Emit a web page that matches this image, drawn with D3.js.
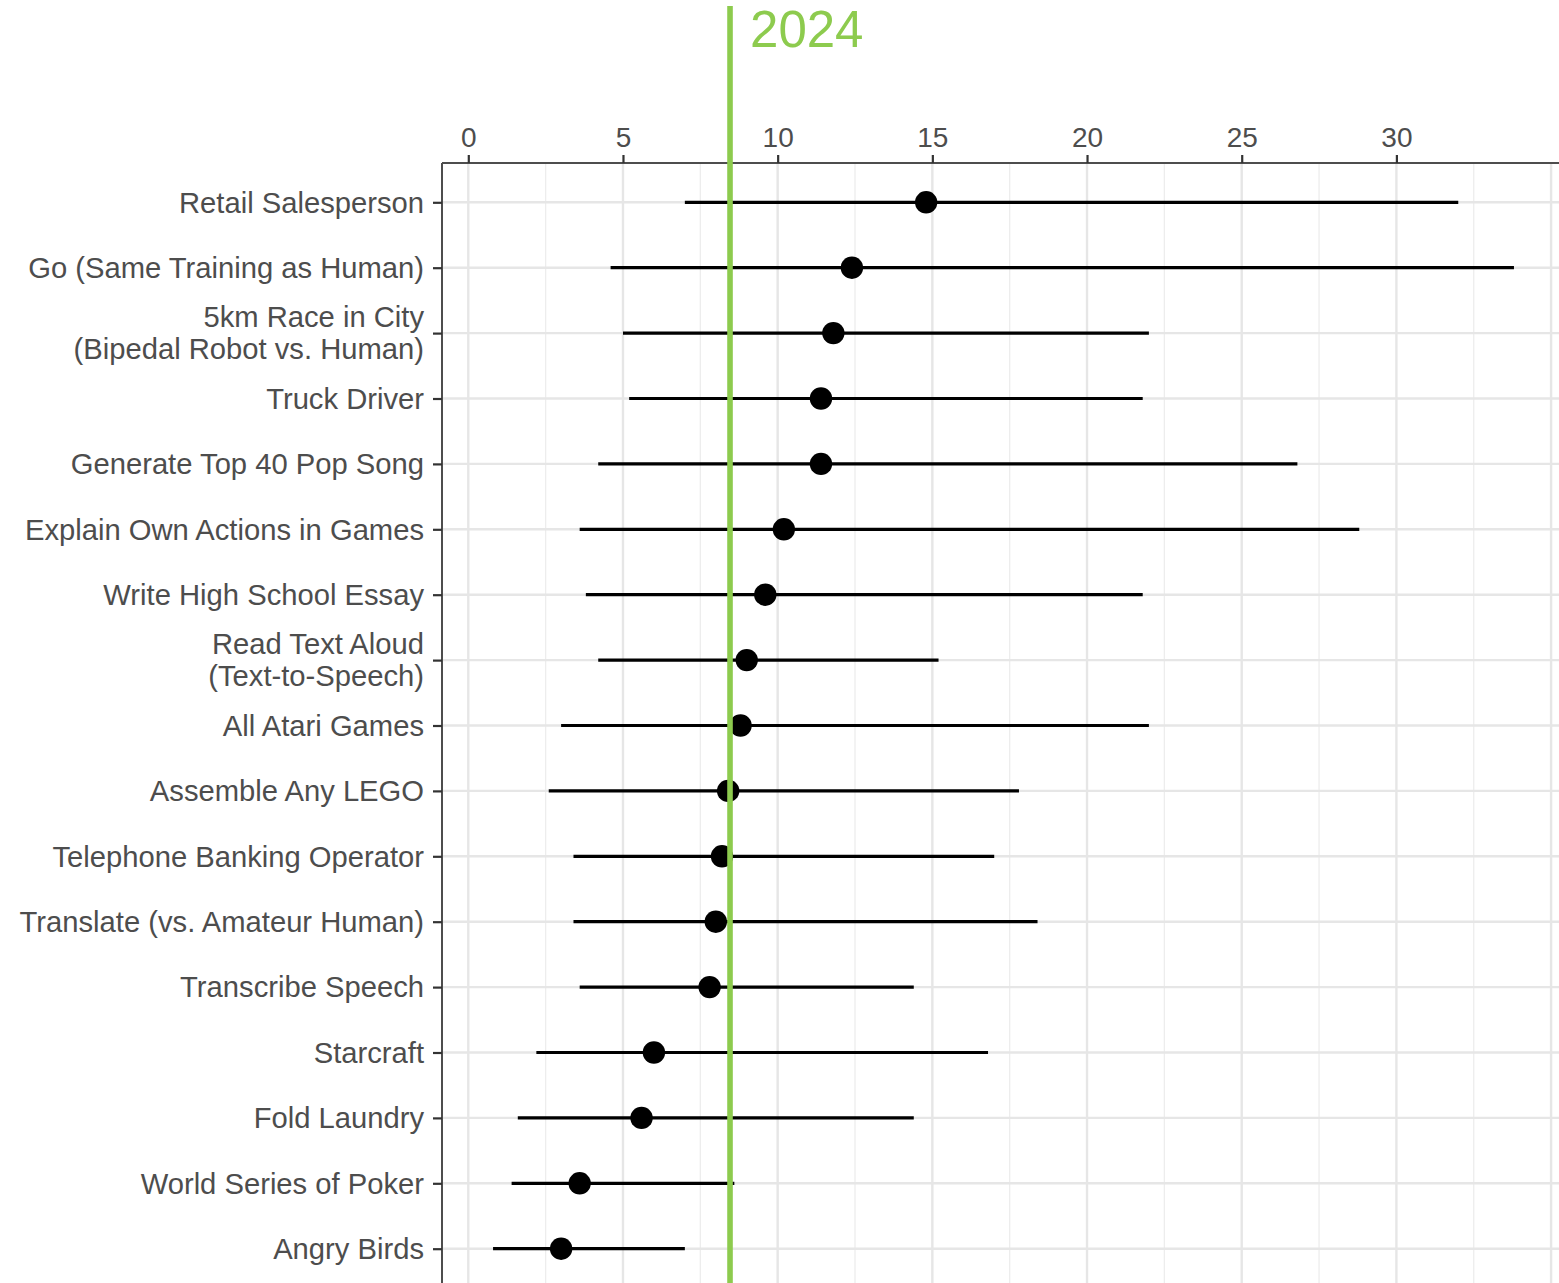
<!DOCTYPE html>
<html>
<head>
<meta charset="utf-8">
<script src="https://cdn.jsdelivr.net/npm/d3@7"></script>
<style>
  html, body { margin: 0; padding: 0; background: #fff; overflow: hidden; }
  svg { display: block; }
</style>
</head>
<body>
<div id="chart"></div>
<script>
// Forecast years until AI outperforms humans: median and interval per task
const tasks = [
  "Retail Salesperson",
  "Go (Same Training as Human)",
  "5km Race in City\n(Bipedal Robot vs. Human)",
  "Truck Driver",
  "Generate Top 40 Pop Song",
  "Explain Own Actions in Games",
  "Write High School Essay",
  "Read Text Aloud\n(Text-to-Speech)",
  "All Atari Games",
  "Assemble Any LEGO",
  "Telephone Banking Operator",
  "Translate (vs. Amateur Human)",
  "Transcribe Speech",
  "Starcraft",
  "Fold Laundry",
  "World Series of Poker",
  "Angry Birds"
];
const medianYears = [14.8, 12.4, 11.8, 11.4, 11.4, 10.2, 9.6, 9.0, 8.8, 8.4, 8.2, 8.0, 7.8, 6.0, 5.6, 3.6, 3.0];
const lowYears    = [7.0, 4.6, 5.0, 5.2, 4.2, 3.6, 3.8, 4.2, 3.0, 2.6, 3.4, 3.4, 3.6, 2.2, 1.6, 1.4, 0.8];
const highYears   = [32.0, 33.8, 22.0, 21.8, 26.8, 28.8, 21.8, 15.2, 22.0, 17.8, 17.0, 18.4, 14.4, 16.8, 14.4, 8.6, 7.0];
const xTicks = [0, 5, 10, 15, 20, 25, 30];
const xMinorTicks = [2.5, 7.5, 12.5, 17.5, 22.5, 27.5, 32.5];
const markerYears = 8.46;
const markerLabel = "2024";

const data = tasks.map((t, i) => ({ task: t, mid: medianYears[i], lo: lowYears[i], hi: highYears[i] }));

const W = 1559, H = 1283;
const panel = { left: 442, top: 163, right: 1568, bottom: 1290 };

const svg = d3.select("#chart").append("svg").attr("width", W).attr("height", H);

// x: ggplot-style 5% expansion of the data range (panel runs past the right edge)
const xMinData = d3.min(lowYears), xMaxData = d3.max(highYears);
const pad = (xMaxData - xMinData) * 0.05;
const x = d3.scaleLinear()
  .domain([xMinData - pad, xMaxData + pad])
  .range([panel.left, 1565]);

// y: discrete rows with 0.6 unit padding at each end
const y = d3.scalePoint()
  .domain(tasks)
  .range([202.3, 1248.7]);

const grid = svg.append("g");
grid.selectAll("line.minor").data(xMinorTicks).join("line")
  .attr("x1", d => x(d)).attr("x2", d => x(d))
  .attr("y1", panel.top).attr("y2", panel.bottom)
  .attr("stroke", "#ededed").attr("stroke-width", 1.3);
grid.selectAll("line.major").data(xTicks.concat([35])).join("line")
  .attr("x1", d => x(d)).attr("x2", d => x(d))
  .attr("y1", panel.top).attr("y2", panel.bottom)
  .attr("stroke", "#e6e6e6").attr("stroke-width", 2.4);
grid.selectAll("line.hgrid").data(tasks).join("line")
  .attr("x1", panel.left).attr("x2", panel.right)
  .attr("y1", d => y(d)).attr("y2", d => y(d))
  .attr("stroke", "#e6e6e6").attr("stroke-width", 2.4);

// intervals
svg.append("g").selectAll("line").data(data).join("line")
  .attr("x1", d => x(d.lo)).attr("x2", d => x(d.hi))
  .attr("y1", d => y(d.task)).attr("y2", d => y(d.task))
  .attr("stroke", "#000").attr("stroke-width", 3.2);

// medians
svg.append("g").selectAll("circle").data(data).join("circle")
  .attr("cx", d => x(d.mid)).attr("cy", d => y(d.task))
  .attr("r", 11.2).attr("fill", "#000");

// top axis
const xAxis = d3.axisTop(x).tickValues(xTicks).tickSize(8).tickPadding(8).tickFormat(d3.format("d"));
const gx = svg.append("g").attr("transform", `translate(0,${panel.top})`).call(xAxis);
gx.select(".domain").attr("stroke", "#4d4d4d").attr("stroke-width", 2).attr("d", `M${panel.left},0H${panel.right}`);
gx.selectAll(".tick line").attr("stroke", "#333").attr("stroke-width", 2.2);
gx.selectAll(".tick text")
  .attr("fill", "#4d4d4d")
  .style("font-family", "'Liberation Sans', Arial, Helvetica, sans-serif")
  .style("font-size", "28px");

// left axis
const yAxis = d3.axisLeft(y).tickSize(9).tickPadding(8).tickFormat("");
const gy = svg.append("g").attr("transform", `translate(${panel.left},0)`).call(yAxis);
gy.select(".domain").attr("stroke", "#4d4d4d").attr("stroke-width", 2).attr("d", `M0,${panel.top}V${panel.bottom}`);
gy.selectAll(".tick line").attr("stroke", "#333").attr("stroke-width", 2.2);

const labels = svg.append("g")
  .style("font-family", "'Liberation Sans', Arial, Helvetica, sans-serif")
  .style("font-size", "29.2px")
  .attr("fill", "#4d4d4d")
  .attr("text-anchor", "end");
data.forEach(d => {
  const lines = d.task.split("\n");
  const lh = 32;
  const t = labels.append("text")
    .attr("x", 424)
    .attr("y", y(d.task));
  lines.forEach((ln, k) => {
    t.append("tspan")
      .attr("x", 424)
      .attr("y", y(d.task) + (k - (lines.length - 1) / 2) * lh)
      .attr("dy", "0.35em")
      .text(ln);
  });
});

// reference year marker
svg.append("line")
  .attr("x1", x(markerYears)).attr("x2", x(markerYears))
  .attr("y1", 6).attr("y2", H)
  .attr("stroke", "#8dcb4e").attr("stroke-width", 5.6);
svg.append("text")
  .attr("x", x(markerYears) + 20).attr("y", 47)
  .attr("fill", "#8dcb4e")
  .style("font-family", "'Liberation Sans', Arial, Helvetica, sans-serif")
  .style("font-size", "51px")
  .text(markerLabel);
</script>
</body>
</html>
